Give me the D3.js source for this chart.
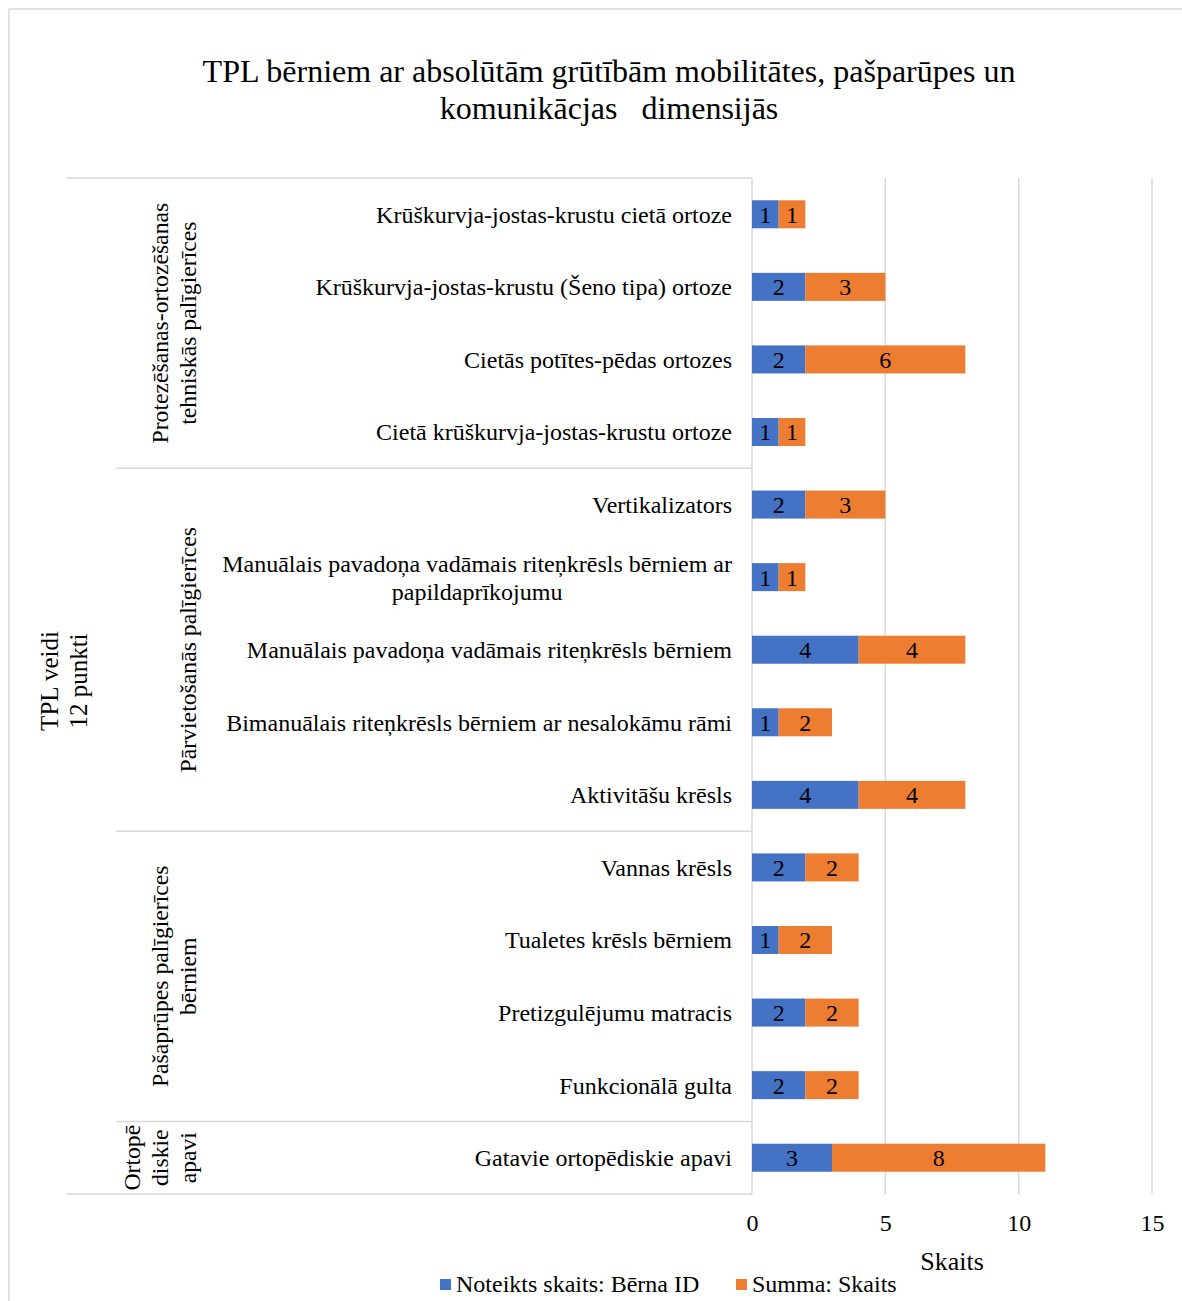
<!DOCTYPE html>
<html><head><meta charset="utf-8">
<script src="https://cdn.jsdelivr.net/npm/d3@7"></script>
<style>
html,body{margin:0;padding:0;background:#fff;}
svg{display:block;font-family:"Liberation Serif","Times New Roman",serif;}
</style></head>
<body>
<script>
const categories = [
  "Krūškurvja-jostas-krustu cietā ortoze",
  "Krūškurvja-jostas-krustu (Šeno tipa) ortoze",
  "Cietās potītes-pēdas ortozes",
  "Cietā krūškurvja-jostas-krustu ortoze",
  "Vertikalizators",
  "Manuālais pavadoņa vadāmais riteņkrēsls bērniem ar papildaprīkojumu",
  "Manuālais pavadoņa vadāmais riteņkrēsls bērniem",
  "Bimanuālais riteņkrēsls bērniem ar nesalokāmu rāmi",
  "Aktivitāšu krēsls",
  "Vannas krēsls",
  "Tualetes krēsls bērniem",
  "Pretizgulējumu matracis",
  "Funkcionālā gulta",
  "Gatavie ortopēdiskie apavi"
];
const categoryLines = {
  "Manuālais pavadoņa vadāmais riteņkrēsls bērniem ar papildaprīkojumu":
    ["Manuālais pavadoņa vadāmais riteņkrēsls bērniem ar", "papildaprīkojumu"]
};
const seriesNames = ["Noteikts skaits: Bērna ID", "Summa: Skaits"];
const countId = [1, 2, 2, 1, 2, 1, 4, 1, 4, 2, 1, 2, 2, 3];
const sumCount = [1, 3, 6, 1, 3, 1, 4, 2, 4, 2, 2, 2, 2, 8];
const groups = [
  {lines: ["Protezēšanas-ortozēšanas", "tehniskās palīgierīces"], count: 4},
  {lines: ["Pārvietošanās palīgierīces"], count: 5},
  {lines: ["Pašaprūpes palīgierīces", "bērniem"], count: 4},
  {lines: ["Ortopē", "diskie", "apavi"], count: 1}
];
const topLabel = ["TPL veidi", "12 punkti"];
const xTicks = [0, 5, 10, 15];
const titleLines = ["TPL bērniem ar absolūtām grūtībām mobilitātes, pašparūpes un", "komunikācjas\u00a0\u00a0\u00a0dimensijās"];
const colors = ["#4472C4", "#ED7D31"];
const gridColor = "#d9d9d9";

const W = 1182, H = 1301;
const svg = d3.select("body").append("svg").attr("width", W).attr("height", H);

// outer border
svg.append("rect").attr("x", 9).attr("y", 9).attr("width", W + 20).attr("height", H + 20)
  .attr("fill", "none").attr("stroke", gridColor).attr("stroke-width", 1.5);

// title
svg.append("text").attr("x", 609).attr("y", 82).attr("text-anchor", "middle")
  .style("font-size", "32px").selectAll("tspan").data(titleLines).join("tspan")
  .attr("x", 609).attr("dy", (d, i) => i ? 37 : 0).text(d => d);

const plotTop = 178, plotBottom = 1194;
const x = d3.scaleLinear().domain([0, 15]).range([752, 1152]);
const pad = 0.614;
const y = d3.scaleBand().domain(categories).range([plotTop, plotBottom])
  .paddingInner(pad).paddingOuter(pad / 2);
const step = y.step();

// gridlines
svg.append("g").selectAll("line").data(xTicks.slice(1)).join("line")
  .attr("x1", d => x(d)).attr("x2", d => x(d)).attr("y1", plotTop).attr("y2", plotBottom)
  .attr("stroke", gridColor).attr("stroke-width", 1.5);

// table lines
const tbl = svg.append("g").attr("stroke", gridColor).attr("stroke-width", 1.5);
tbl.append("line").attr("x1", 67).attr("x2", x(0)).attr("y1", plotTop).attr("y2", plotTop);
tbl.append("line").attr("x1", 67).attr("x2", x(0)).attr("y1", plotBottom).attr("y2", plotBottom);
tbl.append("line").attr("x1", x(0)).attr("x2", x(0)).attr("y1", plotTop).attr("y2", plotBottom);
let idx = 0;
const groupPos = groups.map(g => {
  const start = plotTop + idx * step;
  idx += g.count;
  const end = plotTop + idx * step;
  return {g, start, end};
});
groupPos.slice(0, -1).forEach(p => {
  tbl.append("line").attr("x1", 116).attr("x2", x(0)).attr("y1", p.end).attr("y2", p.end);
});

// group labels (rotated)
groupPos.forEach(p => {
  const cy = (p.start + p.end) / 2;
  const n = p.g.lines.length;
  const t = svg.append("text").attr("transform", `translate(0,${cy}) rotate(-90)`)
    .attr("text-anchor", "middle").style("font-size", "23.7px");
  p.g.lines.forEach((l, i) => {
    t.append("tspan").attr("x", 0).attr("y", 196 - (n - 1 - i) * 28).text(l);
  });
});
{
  const cy = 681;
  const t = svg.append("text").attr("transform", `translate(0,${cy}) rotate(-90)`)
    .attr("text-anchor", "middle").style("font-size", "25px");
  topLabel.forEach((l, i) => t.append("tspan").attr("x", 0).attr("y", 58 + i * 29).text(l));
}

// category labels
const catFont = "24px";
categories.forEach(c => {
  const cy = y(c) + y.bandwidth() / 2;
  const lines = categoryLines[c];
  if (!lines) {
    svg.append("text").attr("x", 732).attr("y", cy).attr("dy", "0.35em")
      .attr("text-anchor", "end").style("font-size", catFont).text(c);
  } else {
    const t = svg.append("text").attr("text-anchor", "middle").style("font-size", catFont);
    const spans = lines.map((l, i) => t.append("tspan").attr("y", cy - 14 + i * 28).attr("dy", "0.35em").text(l));
    const maxW = d3.max(spans, s => s.node().getComputedTextLength());
    spans.forEach(s => s.attr("x", 732 - maxW / 2));
  }
});

// bars
const stacked = categories.map((c, i) => {
  const a = countId[i], b = sumCount[i];
  return [{c, x0: 0, x1: a, v: a, s: 0}, {c, x0: a, x1: a + b, v: b, s: 1}];
}).flat();
const bars = svg.append("g");
bars.selectAll("rect").data(stacked).join("rect")
  .attr("x", d => x(d.x0)).attr("width", d => x(d.x1) - x(d.x0))
  .attr("y", d => y(d.c)).attr("height", y.bandwidth())
  .attr("fill", d => colors[d.s]);
bars.selectAll("text").data(stacked).join("text")
  .attr("x", d => (x(d.x0) + x(d.x1)) / 2).attr("y", d => y(d.c) + y.bandwidth() / 2)
  .attr("dy", "0.35em").attr("text-anchor", "middle").style("font-size", "24px")
  .text(d => d.v);

// x axis
const ax = svg.append("g").attr("transform", `translate(0,${plotBottom})`)
  .call(d3.axisBottom(x).tickValues(xTicks).tickSize(0).tickPadding(20));
ax.select(".domain").remove();
ax.selectAll("text").style("font-size", "24px").style("font-family", "Liberation Serif").attr("fill", "#000");

svg.append("text").attr("x", (x(0) + x(15)) / 2).attr("y", 1270).attr("text-anchor", "middle")
  .style("font-size", "26px").text("Skaits");

// legend
const leg = [{x: 440, t: seriesNames[0], c: colors[0]}, {x: 736, t: seriesNames[1], c: colors[1]}];
leg.forEach(l => {
  svg.append("rect").attr("x", l.x).attr("y", 1279).attr("width", 11).attr("height", 11).attr("fill", l.c);
  svg.append("text").attr("x", l.x + 16).attr("y", 1292).style("font-size", "24px").text(l.t);
});
</script>
</body></html>
